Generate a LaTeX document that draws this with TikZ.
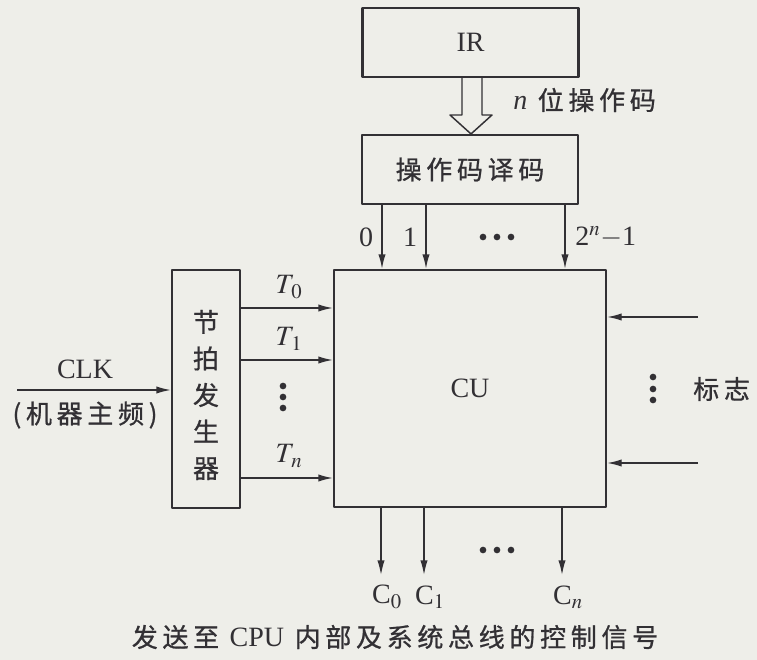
\documentclass[tikz,border=0pt]{standalone}
\usepackage{mathptmx}
\usepackage{fontspec}
\setmainfont{Liberation Serif}
\newfontfamily\cjk[LetterSpace=18, FakeBold=0.8]{Noto Sans CJK SC}
\usetikzlibrary{arrows.meta}
\definecolor{ink}{RGB}{50,48,52}
\definecolor{paper}{RGB}{238,238,233}

\begin{document}
\begin{tikzpicture}[x=0.75pt, y=-0.75pt, line join=round,
  every node/.style={text=ink},
  blockbox/.style={draw=ink, line width=1.6pt, fill=paper, inner sep=0pt},
  sig/.style={draw=ink, line width=1.1pt, -{Latex[length=11pt, width=5.5pt]}},
  lbl/.style={font=\fontsize{21}{23}\selectfont, inner sep=0pt},
  zh/.style={font=\fontsize{19.5}{22}\selectfont\cjk, inner sep=0pt},
  dot/.style={circle, fill=ink, inner sep=0pt, minimum size=5pt}]
\fill[paper] (0,0) rectangle (757,660);
\useasboundingbox (0,0) rectangle (757,660);
% blocks
\node[blockbox, minimum width=162pt, minimum height=51.75pt] (ir) at (470.5,42.5) {};
\node[lbl] at (ir) {IR};
\node[blockbox, minimum width=162pt, minimum height=51.75pt] (dec) at (470,169.5) {};
\node[zh] at (dec) {操作码译码};
\node[blockbox, minimum width=204pt, minimum height=177.75pt] (cu) at (470,388.5) {};
\node[lbl] at (cu) {CU};
\node[blockbox, minimum width=51pt, minimum height=178.5pt] (gen) at (206,389) {};
\node[zh, align=center, font=\fontsize{19.5}{27.4}\selectfont\cjk] at (206,395) {节\\拍\\发\\生\\器};
% opcode bus
\draw[ink, line width=1.1pt, fill=paper] (ir.south -| 462,0) -- (462,115) -- (450,115) -- (dec.north -| 471,0)
  -- (492,115) -- (482,115) -- (ir.south -| 482,0);
\node[zh, anchor=west] at (513,100) {\textit{\fontsize{21}{23}\selectfont\rmfamily n} 位操作码};
% decoder outputs
\coordinate (k0) at (382,0);
\coordinate (k1) at (426,0);
\coordinate (kn) at (565,0);
\foreach \k in {k0,k1,kn} \draw[sig] (dec.south -| \k) -- (cu.north -| \k);
\node[lbl] at (366,237) {0};
\node[lbl] at (410,237) {1};
\foreach \x in {483,497,511} \node[dot] at (\x,237) {};
\node[lbl, anchor=west] at (575,237) {2$^{n}$$-$1};
% clock and beat generator
\coordinate (clk) at (17,390);
\draw[sig] (clk) -- (gen.west |- clk);
\node[lbl] at (85,369) {CLK};
\node[zh] at (85,415) {(机器主频)};
\coordinate (t0) at (0,308);
\coordinate (t1) at (0,360);
\coordinate (tn) at (0,478);
\foreach \t in {t0,t1,tn} \draw[sig] (gen.east |- \t) -- (cu.west |- \t);
\node[lbl] at (289,287) {$T_{\,0}$};
\node[lbl] at (289,339) {$T_{\,1}$};
\node[lbl] at (289,456) {$T_{\,n}$};
\foreach \y in {386,397,408} \node[dot] at (283,\y) {};
% flags
\coordinate (f0) at (698,317);
\coordinate (fn) at (698,463);
\foreach \f in {f0,fn} \draw[sig] (\f) -- (cu.east |- \f);
\foreach \y in {377,389,400} \node[dot] at (653,\y) {};
\node[zh, anchor=west] at (693,389) {标志};
% control outputs
\coordinate (o0) at (381,575);
\coordinate (o1) at (424,575);
\coordinate (on) at (562,575);
\foreach \o in {o0,o1,on} \draw[sig] (cu.south -| \o) -- (\o);
\node[lbl] at (387,597) {C$_{0}$};
\node[lbl] at (430,597) {C$_{1}$};
\node[lbl] at (568,597) {C$_n$};
\foreach \x in {483,497,511} \node[dot] at (\x,550) {};
\node[zh] at (395,637) {发送至 {\rmfamily\fontsize{21}{23}\selectfont CPU} 内部及系统总线的控制信号};
\end{tikzpicture}
\end{document}
